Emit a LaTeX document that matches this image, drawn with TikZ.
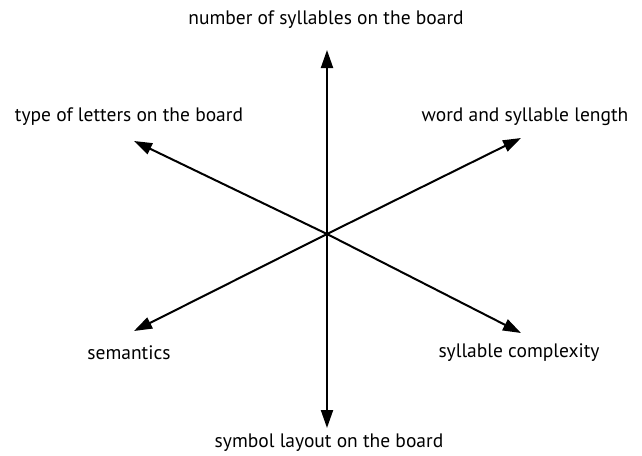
\documentclass[tikz,border=0pt]{standalone}
\usepackage{fontspec}
\setmainfont{PT Sans}
\usetikzlibrary{arrows.meta}
\begin{document}
\begin{tikzpicture}[x=1pt,y=-1pt,
  axis/.style={line width=2pt,-{Triangle[length=18pt,width=12pt]}},
  lbl/.style={font=\fontsize{19.5}{22}\selectfont,inner sep=0pt}]
\useasboundingbox[fill=white] (0,0) rectangle (642,455);
\coordinate (c) at (327,234);
\coordinate (tU) at (327,50);
\coordinate (tD) at (327,428);
\coordinate (tUL) at (134,141);
\coordinate (tUR) at (521,138);
\coordinate (tDL) at (134,331);
\coordinate (tDR) at (521,333);
\draw[axis] (c) -- (tU);
\draw[axis] (c) -- (tD);
\draw[axis] (c) -- (tUL);
\draw[axis] (c) -- (tUR);
\draw[axis] (c) -- (tDL);
\draw[axis] (c) -- (tDR);
\node[lbl] (lU) at (326,20) {number of syllables on the board};
\node[lbl] (lUL) at (129,117) {type of letters on the board};
\node[lbl] (lUR) at (525,117) {word and syllable length};
\node[lbl] (lDL) at (129,353) {semantics};
\node[lbl] (lDR) at (519,353) {syllable complexity};
\node[lbl] (lD) at (329,443) {symbol layout on the board};
\end{tikzpicture}
\end{document}
